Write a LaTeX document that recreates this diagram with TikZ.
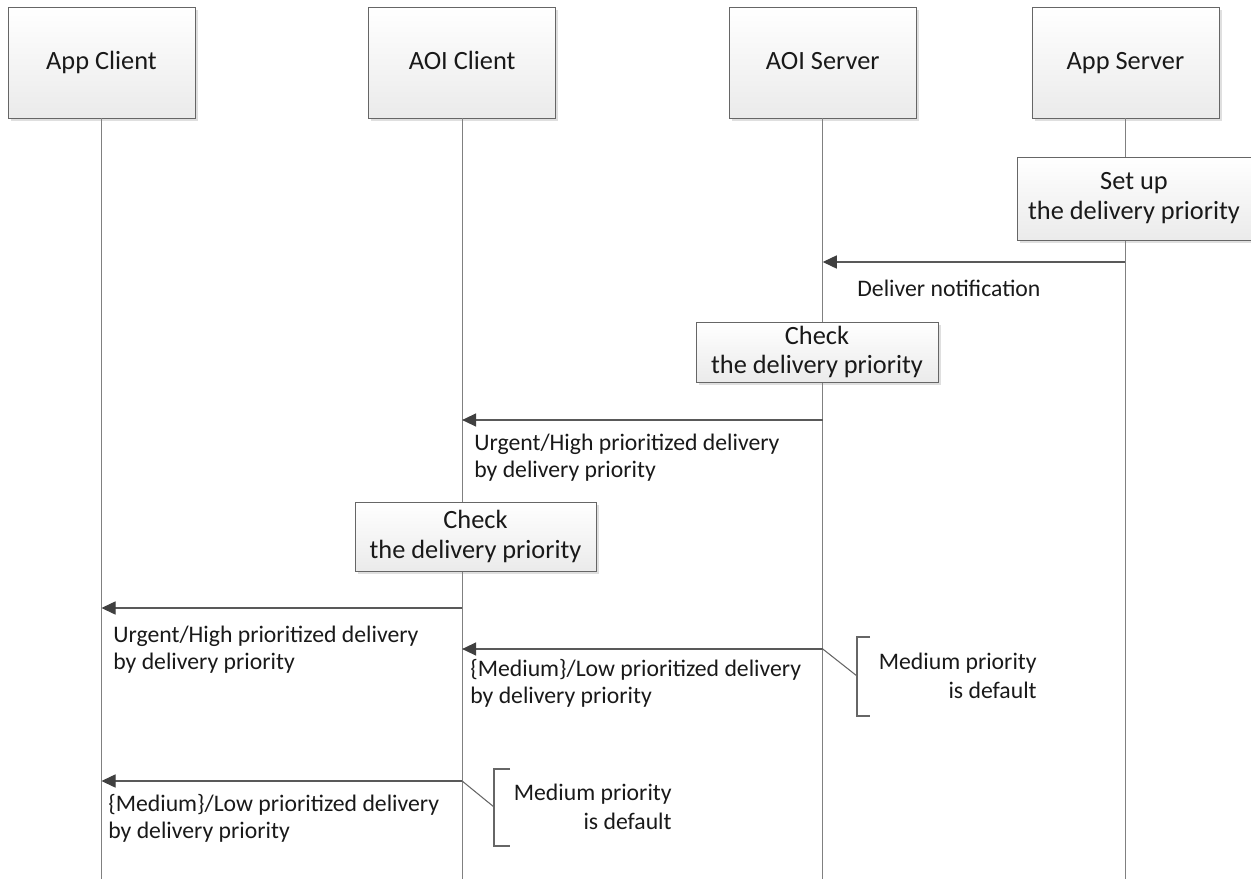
\documentclass[tikz,border=0pt]{standalone}
\usepackage{fontspec}
\setmainfont{Carlito}
\usetikzlibrary{positioning,arrows.meta,shadows}

\begin{document}
\begin{tikzpicture}[x=0.02cm, y=-0.02cm, node distance=3.46cm,
    head node/.style={rectangle, draw=black!60, top color=white, bottom color=black!8,
      drop shadow={shadow xshift=1.5pt, shadow yshift=-1.5pt, opacity=0.25},
      minimum width=3.74cm, minimum height=2.22cm, text height=1em, text depth=0.15em,
      font=\fontsize{15}{18}\selectfont},
    act node/.style={rectangle, draw=black!60, top color=white, bottom color=black!8,
      drop shadow={shadow xshift=1.5pt, shadow yshift=-1.5pt, opacity=0.25},
      align=center, inner sep=0pt, font=\fontsize{15}{17}\selectfont},
    life/.style={draw=black!50, line width=0.6pt},
    msg/.style={draw=black!65, line width=0.6pt, -{Triangle[length=8pt,width=7.5pt,color=black!75]}},
    msg label/.style={align=left, inner sep=0pt, font=\fontsize{13.5}{15.5}\selectfont},
    note/.style={align=right, inner sep=0pt, font=\fontsize{13.5}{16.5}\selectfont},
    brace/.style={draw=black!60, line width=0.6pt}]
  \tikzstyle{every node}=[text=black!90]
  \useasboundingbox (0,0) rectangle (1251,879);

  % lifeline heads
  \node[head node] (1) at (101.5,62.5) {App Client};
  \node[head node] (2) [right=of 1] {AOI Client};
  \node[head node] (3) [right=of 2] {AOI Server};
  \node[head node] (4) [right=2.3cm of 3] {App Server};

  \coordinate (bot) at (0,879);
  \foreach \i in {1,...,4} {
    \coordinate (b\i) at (\i |- bot);
    \draw[life] (\i) -- (b\i);
  }

  % actions
  \node[act node, minimum width=4.68cm, minimum height=1.66cm] (5) at (1134,198.5) {Set up\\the delivery priority};
  \node[act node, minimum width=4.84cm, minimum height=1.2cm] (6) at (817,352) {Check\\the delivery priority};
  \node[act node, minimum width=4.82cm, minimum height=1.38cm] (7) at (475.5,536.5) {Check\\the delivery priority};

  % messages
  \coordinate (m1a) at (4 |- 0,262);
  \coordinate (m1b) at (3 |- 0,262);
  \coordinate (m2a) at (3 |- 0,420);
  \coordinate (m2b) at (2 |- 0,420);
  \coordinate (m3a) at (2 |- 0,608);
  \coordinate (m3b) at (1 |- 0,608);
  \coordinate (m4a) at (3 |- 0,649);
  \coordinate (m4b) at (2 |- 0,649);
  \coordinate (m5a) at (2 |- 0,781);
  \coordinate (m5b) at (1 |- 0,781);

  \draw[msg] (m1a) -- (m1b);
  \draw[msg] (m2a) -- (m2b);
  \draw[msg] (m3a) -- (m3b);
  \draw[msg] (m4a) -- (m4b);
  \draw[msg] (m5a) -- (m5b);

  \node[msg label, anchor=west] (l1) at (857,288) {Deliver notification};
  \node[msg label, anchor=west] (l2) at (474,458) {Urgent/High prioritized delivery\\by delivery priority};
  \node[msg label, anchor=west] (l3) at (113,650) {Urgent/High prioritized delivery\\by delivery priority};
  \node[msg label, anchor=west] (l4) at (470,683) {\{Medium\}/Low prioritized delivery\\by delivery priority};
  \node[msg label, anchor=west] (l5) at (108,818) {\{Medium\}/Low prioritized delivery\\by delivery priority};

  % notes
  \node[note, anchor=east] (n1) at (1037,676) {Medium priority\\is default};
  \node[note, anchor=east] (n2) at (672,807) {Medium priority\\is default};

  \coordinate (k1) at (857,676);
  \coordinate (k2) at (494,807);
  \draw[brace] (870,637) -- (857,637) -- (857,716) -- (870,716);
  \draw[brace] (510,769) -- (494,769) -- (494,846) -- (510,846);
  \draw[brace] (m4a) -- (k1);
  \draw[brace] (m5a) -- (k2);
\end{tikzpicture}
\end{document}
